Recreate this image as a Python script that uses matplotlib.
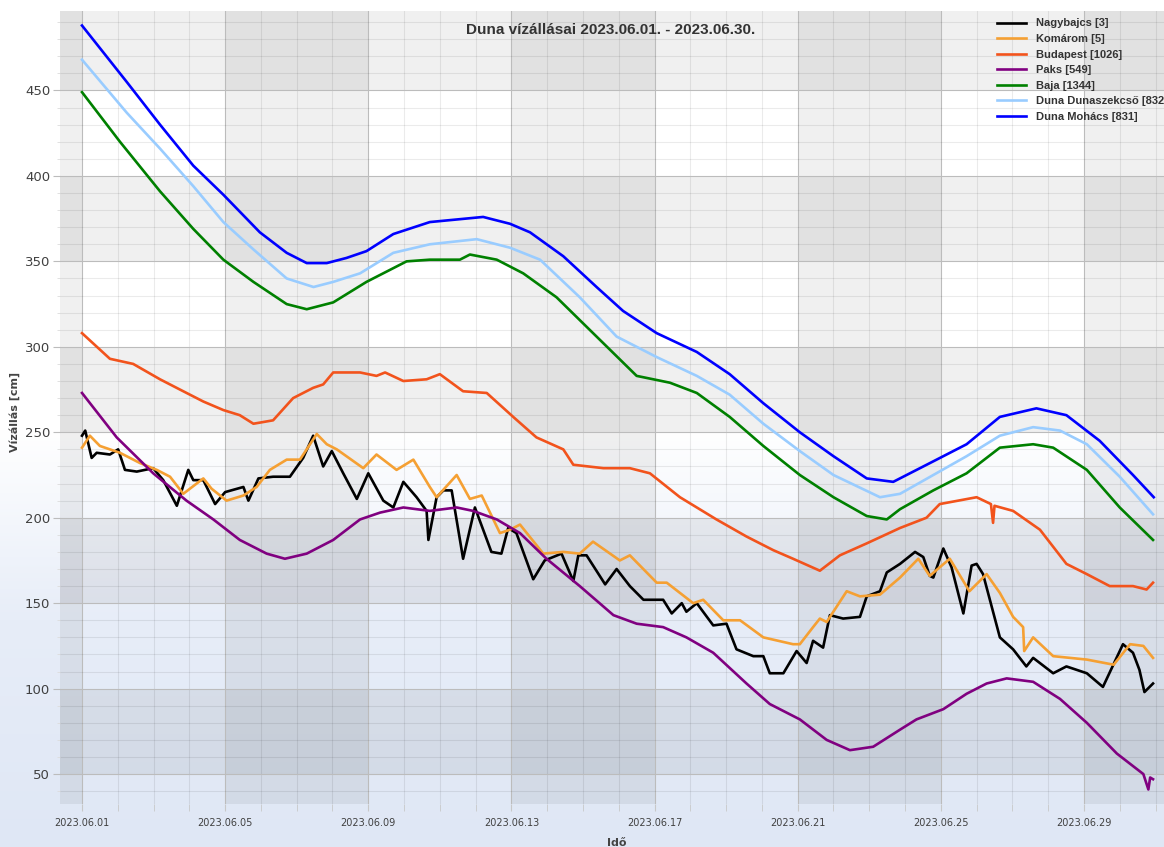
import numpy as np
import pandas as pd
import matplotlib
matplotlib.use('Agg')
import matplotlib.pyplot as plt
import matplotlib.dates as mdates

# Water levels: days after 2023.06.01 00:00, level in cm
nagybajcs_day = [0, 0.09, 0.27, 0.41, 0.78, 1.01, 1.2, 1.53, 1.99, 2.27, 2.65, 2.97, 3.11, 3.39, 3.72, 4.0,
                 4.51, 4.65, 4.93, 5.34, 5.81, 6.18, 6.46, 6.74, 6.98, 7.3, 7.68, 8.0, 8.42, 8.7, 8.98, 9.35,
                 9.63, 9.68, 9.91, 10.1, 10.33, 10.65, 10.98, 11.44, 11.72, 11.91, 12.14, 12.61, 12.93, 13.4,
                 13.73, 13.87, 14.1, 14.62, 14.94, 15.31, 15.69, 16.24, 16.48, 16.76, 16.89, 17.18, 17.64,
                 18.01, 18.29, 18.76, 19.04, 19.22, 19.6, 19.97, 20.25, 20.43, 20.71, 20.9, 21.27, 21.74,
                 21.93, 22.3, 22.49, 22.86, 23.28, 23.51, 23.69, 23.79, 24.07, 24.3, 24.63, 24.86, 25.0,
                 25.18, 25.65, 26.02, 26.39, 26.58, 27.14, 27.51, 28.08, 28.53, 29.09, 29.37, 29.55, 29.69,
                 29.93]
nagybajcs_cm = [248, 251, 235, 238, 237, 240, 228, 227, 229, 222, 207, 228, 222, 222, 208, 215,
                218, 210, 223, 224, 224, 235, 248, 230, 239, 226, 211, 226, 210, 206, 221, 212,
                204, 187, 212, 216, 216, 176, 206, 180, 179, 194, 191, 164, 175, 179,
                163, 178, 178, 161, 170, 160, 152, 152, 144, 150, 145, 150, 137,
                138, 123, 119, 119, 109, 109, 122, 115, 128, 124, 143, 141, 142,
                154, 157, 168, 173, 180, 177, 166, 165, 182, 171, 144, 172, 173,
                167, 130, 123, 113, 118, 109, 113, 109, 101, 126, 121, 111, 98,
                103]

komarom_day = [0, 0.22, 0.5, 1.06, 1.62, 2.09, 2.46, 2.83, 3.39, 3.62, 4.04, 4.51, 4.88, 5.25, 5.72,
               6.09, 6.56, 6.84, 7.12, 7.86, 8.23, 8.79, 9.26, 9.72, 9.91, 10.47, 10.84, 11.17, 11.68,
               11.96, 12.24, 12.89, 13.45, 13.91, 14.28, 15.03, 15.31, 16.06, 16.34, 17.08, 17.36,
               17.92, 18.39, 19.04, 19.87, 20.06, 20.43, 20.62, 20.81, 21.37, 21.74, 22.3, 22.86,
               23.37, 23.69, 24.25, 24.8, 25.28, 25.65, 26.02, 26.3, 26.33, 26.58, 27.14, 28.08,
               28.83, 29.29, 29.66, 29.93]
komarom_cm = [241, 248, 242, 238, 232, 228, 224, 214, 223, 217, 210, 213, 218, 228, 234,
              234, 249, 243, 240, 229, 237, 228, 234, 218, 212, 225, 211, 213, 191,
              193, 196, 179, 180, 179, 186, 175, 178, 162, 162, 150, 152,
              140, 140, 130, 126, 126, 136, 141, 139, 157, 154, 155, 165,
              176, 166, 176, 157, 167, 156, 142, 136, 122, 130, 119, 117,
              114, 126, 125, 118]

budapest_day = [0, 0.78, 1.43, 2.18, 2.83, 3.39, 3.95, 4.41, 4.79, 5.34, 5.9, 6.46, 6.74, 7.02, 7.77,
                8.23, 8.47, 8.98, 9.63, 10.0, 10.65, 11.31, 12.05, 12.7, 13.45, 13.73, 14.57, 15.31,
                15.87, 16.71, 17.73, 18.57, 19.32, 19.87, 20.62, 21.18, 21.93, 22.86, 23.6, 23.97,
                25.0, 25.4, 25.46, 25.5, 26.02, 26.77, 27.51, 28.08, 28.72, 29.37, 29.75, 29.93]
budapest_cm = [308, 293, 290, 281, 274, 268, 263, 260, 255, 257, 270, 276, 278, 285, 285,
               283, 285, 280, 281, 284, 274, 273, 259, 247, 240, 231, 229, 229,
               226, 212, 199, 189, 181, 176, 169, 178, 185, 194, 200, 208,
               212, 208, 197, 207, 204, 193, 173, 167, 160, 160, 158, 162]

paks_day = [0, 0.97, 1.99, 2.92, 3.67, 4.41, 5.16, 5.67, 6.28, 7.02, 7.77, 8.33, 8.98, 9.72, 10.47,
            10.93, 11.59, 12.24, 12.98, 13.91, 14.85, 15.5, 16.24, 16.89, 17.64, 18.57, 19.22,
            20.06, 20.81, 21.46, 22.11, 22.86, 23.32, 24.07, 24.72, 25.28, 25.84, 26.58, 27.33,
            28.08, 28.92, 29.66, 29.8, 29.85, 29.93]
paks_cm = [273, 247, 226, 210, 199, 187, 179, 176, 179, 187, 199, 203, 206, 204, 206,
           204, 199, 191, 176, 160, 143, 138, 136, 130, 121, 103, 91,
           82, 70, 64, 66, 76, 82, 88, 97, 103, 106, 104, 94,
           80, 62, 50, 41, 48, 47]

baja_day = [0, 1.06, 2.18, 3.11, 3.95, 4.79, 5.72, 6.28, 7.02, 7.95, 9.07, 9.72, 10.56, 10.84,
            11.59, 12.33, 13.26, 14.38, 15.5, 16.43, 17.18, 18.1, 19.04, 20.06, 21.0, 21.93,
            22.49, 22.86, 23.79, 24.72, 25.65, 26.58, 27.14, 28.08, 29.0, 29.93]
baja_cm = [449, 420, 391, 369, 351, 338, 325, 322, 326, 338, 350, 351, 351, 354,
           351, 343, 329, 306, 283, 279, 273, 259, 242, 225, 212, 201,
           199, 205, 216, 226, 241, 243, 241, 228, 206, 187]

dunaszekcso_day = [0, 1.25, 2.18, 3.11, 3.95, 4.79, 5.72, 6.47, 7.02, 7.77, 8.7, 9.72, 11.03, 11.96,
                   12.8, 13.91, 14.94, 16.06, 17.18, 18.1, 19.04, 20.06, 21.0, 22.3, 22.86, 23.79,
                   24.72, 25.65, 26.58, 27.33, 28.08, 29.0, 29.93]
dunaszekcso_cm = [468, 437, 416, 394, 373, 357, 340, 335, 338, 343, 355, 360, 363, 358,
                  351, 329, 306, 294, 283, 272, 255, 239, 225, 212, 214, 225,
                  236, 248, 253, 251, 243, 224, 202]

mohacs_day = [0, 1.25, 2.18, 3.11, 3.95, 4.97, 5.72, 6.28, 6.84, 7.39, 7.95, 8.7, 9.72, 11.21, 11.96,
              12.52, 13.45, 14.38, 15.12, 16.06, 17.18, 18.1, 19.04, 20.06, 21.0, 21.93, 22.67,
              23.79, 24.72, 25.65, 26.67, 27.51, 28.44, 29.37, 29.95]
mohacs_cm = [488, 455, 430, 406, 389, 367, 355, 349, 349, 352, 356, 366, 373, 376, 372,
             367, 353, 335, 321, 308, 297, 284, 267, 250, 236, 223, 221,
             233, 243, 259, 264, 260, 245, 225, 212]

series = [
    ('Nagybajcs [3]', nagybajcs_day, nagybajcs_cm, '#000000'),
    ('Komárom [5]', komarom_day, komarom_cm, '#f5a033'),
    ('Budapest [1026]', budapest_day, budapest_cm, '#f2531c'),
    ('Paks [549]', paks_day, paks_cm, '#800080'),
    ('Baja [1344]', baja_day, baja_cm, '#008000'),
    ('Duna Dunaszekcső [832]', dunaszekcso_day, dunaszekcso_cm, '#99ccff'),
    ('Duna Mohács [831]', mohacs_day, mohacs_cm, '#0000ff'),
]

start = pd.Timestamp('2023-06-01')
W, H = 1164, 847

fig = plt.figure(figsize=(W / 100, H / 100), dpi=100)

# page background: white on top fading to light blue at the bottom
bg = fig.add_axes([0, 0, 1, 1])
bg.axis('off')
rows = np.arange(H)
top = np.array([255, 255, 255]) / 255
mid = np.array([0xe7, 0xed, 0xf8]) / 255
low = np.array([0xdf, 0xe7, 0xf5]) / 255
grad = np.empty((H, 1, 3))
for c in range(3):
    grad[:, 0, c] = np.interp(rows, [0, 430, 620, H], [top[c], top[c], mid[c], low[c]])
bg.imshow(grad, extent=[0, 1, 0, 1], aspect='auto', zorder=0)

ax = fig.add_axes([60 / W, 1 - 804 / H, (1177 - 60) / W, (804 - 11) / H])
ax.set_facecolor('none')

x0 = start - pd.Timedelta(days=0.615)
x1 = start + pd.Timedelta(days=30.6)
ax.set_xlim(x0, x1)
ax.set_ylim(32.5, 496.5)

# alternating shaded bands
shade = dict(color='black', alpha=0.06, lw=0, zorder=0)
ax.axvspan(x0, start, **shade)
for d in [4, 12, 20, 28]:
    ax.axvspan(start + pd.Timedelta(days=d),
               min(start + pd.Timedelta(days=d + 4), x1), **shade)
for lo in [50, 150, 250, 350, 450]:
    ax.axhspan(lo, lo + 50, **shade)

for name, day, cm, col in series:
    t = start + pd.to_timedelta(day, unit='D')
    ax.plot(t, cm, color=col, lw=1.9, label=name, zorder=3)

major_days = [start + pd.Timedelta(days=d) for d in range(0, 30, 4)]
ax.set_xticks(major_days)
ax.xaxis.set_minor_locator(mdates.DayLocator())
ax.xaxis.set_major_formatter(mdates.DateFormatter('%Y.%m.%d'))
ax.set_yticks(np.arange(50, 451, 50))
ax.set_yticks(np.arange(40, 500, 10), minor=True)

ax.grid(which='major', color='#bcbcbc', lw=0.8, zorder=1)
ax.grid(which='minor', color='black', alpha=0.08, lw=0.8, zorder=1)
ax.set_axisbelow(True)
for s in ax.spines.values():
    s.set_visible(False)

ax.tick_params(axis='x', which='both', direction='out', length=5, color='#c8c8c8',
               labelsize=7, labelcolor='#404040', pad=5)
ax.tick_params(axis='y', which='major', direction='out', length=5, color='#bcbcbc',
               labelsize=9.5, labelcolor='#404040', pad=2)
ax.tick_params(axis='y', which='minor', direction='out', length=2.2, color='#dcdcdc')

leg = ax.legend(loc='upper left', bbox_to_anchor=(997 / W, 1 - 18.5 / H),
                bbox_transform=fig.transFigure, frameon=False, borderpad=0,
                borderaxespad=0, handlelength=2.6, handletextpad=0.9,
                labelspacing=0.5,
                prop={'weight': 'bold', 'size': 8, 'family': 'Liberation Sans'})
for txt in leg.get_texts():
    txt.set_color('#333333')

fig.text(611 / W, 1 - 30 / H, 'Duna vízállásai 2023.06.01. - 2023.06.30.',
         ha='center', va='center', fontsize=11, fontweight='bold',
         family='Liberation Sans', color='#333333')
fig.text(15 / W, 1 - 412 / H, 'Vízállás [cm]', rotation=90, ha='center', va='center',
         fontsize=8, fontweight='bold', color='#444444')
fig.text(617 / W, 1 - 838 / H, 'Idő', ha='center', va='top',
         fontsize=8, fontweight='bold', color='#444444')

fig.savefig('out.png', dpi=100)
